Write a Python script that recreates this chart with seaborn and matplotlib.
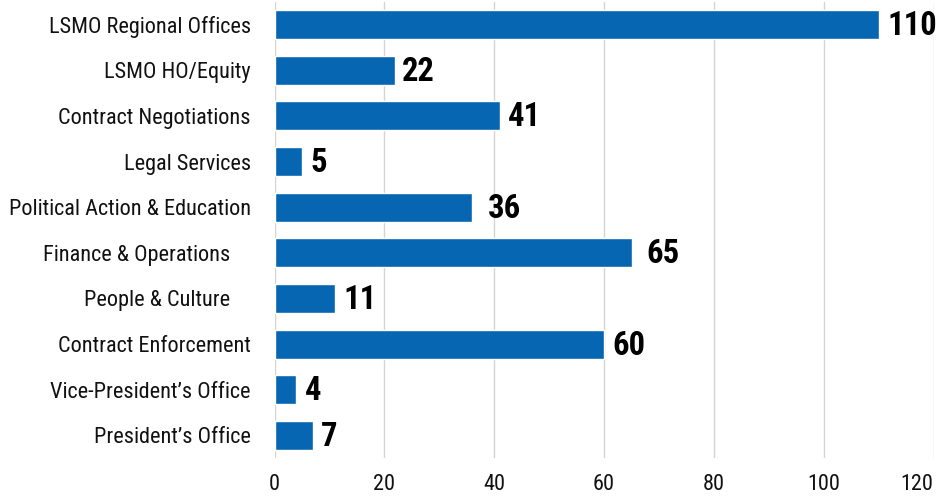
import matplotlib
matplotlib.use("Agg")
import matplotlib.pyplot as plt
import seaborn as sns
import pandas as pd

departments = [
    "LSMO Regional Offices",
    "LSMO HO/Equity",
    "Contract Negotiations",
    "Legal Services",
    "Political Action & Education",
    "Finance & Operations    ",
    "People & Culture    ",
    "Contract Enforcement",
    "Vice-President\u2019s Office",
    "President\u2019s Office",
]
staff = [110, 22, 41, 5, 36, 65, 11, 60, 4, 7]
x_ticks = [0, 20, 40, 60, 80, 100, 120]

# gap (points) between each bar end and its value label
label_gap = [6, 5, 6, 6, 11, 11, 6, 6, 6, 6]

df = pd.DataFrame({"department": departments, "staff": staff})

sns.set_theme(style="white")
plt.rcParams["font.family"] = ["Roboto Condensed", "DejaVu Sans"]

fig = plt.figure(figsize=(9.45, 4.99), dpi=100)
ax = fig.add_axes([0.2905, 0.0816, 0.6974, 0.915])

sns.barplot(data=df, y="department", x="staff", orient="h",
            color="#0666b2", saturation=1, width=0.635, ax=ax)

for i, v in enumerate(staff):
    ax.annotate(str(v), xy=(v, i), xytext=(label_gap[i], -1),
                textcoords="offset points", ha="left", va="center",
                fontsize=23.5, fontweight="bold", color="black")

ax.set_xlim(0, 120)
ax.set_xticks(x_ticks)
ax.set_xticklabels([str(t) for t in x_ticks], fontsize=16, color="#111111")
ax.get_xticklabels()[-1].set_horizontalalignment("right")
ax.tick_params(axis="y", labelsize=16, length=0, pad=17, labelcolor="#111111")
ax.tick_params(axis="x", length=0, pad=11)
ax.set_xlabel("")
ax.set_ylabel("")
ax.xaxis.grid(True, color="#d4d4d4", linewidth=1)
ax.set_axisbelow(True)
for s in ax.spines.values():
    s.set_visible(False)

fig.savefig("out.png", dpi=100)
